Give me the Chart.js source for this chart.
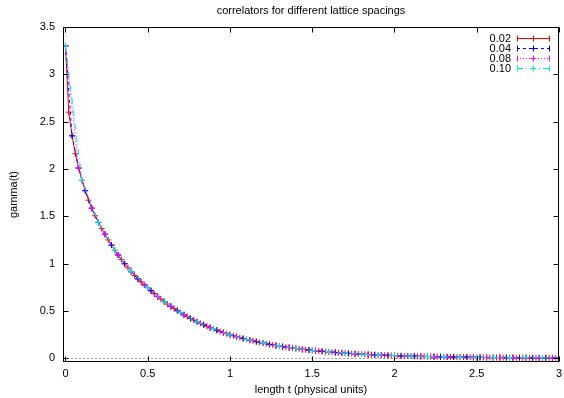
<!DOCTYPE html>
<html>
<head>
<meta charset="utf-8">
<title>correlators for different lattice spacings</title>
<script src="https://cdn.jsdelivr.net/npm/chart.js@4.4.1/dist/chart.umd.min.js"></script>
<style>
  html, body { margin: 0; padding: 0; background: #fff; }
  canvas { display: block; }
</style>
</head>
<body>
<canvas id="corr" width="564" height="398"></canvas>
<script>
// ---------------------------------------------------- data ----------------------------------------------------
const seriesNames = ['0.02', '0.04', '0.08', '0.10'];
const spacings = [0.02, 0.04, 0.08, 0.10];

const gamma002 = [
    3.30, 2.60, 2.35, 2.16, 2.01, 1.88, 1.77, 1.67, 1.585, 1.505,
    1.435, 1.37, 1.31, 1.25, 1.195, 1.14, 1.09, 1.043, 0.998, 0.955,
    0.914, 0.875, 0.838, 0.806, 0.775, 0.745, 0.713, 0.682, 0.653, 0.625,
    0.598, 0.572, 0.548, 0.524, 0.502, 0.480, 0.459, 0.440, 0.421, 0.403,
    0.385, 0.369, 0.353, 0.338, 0.323, 0.309, 0.296, 0.283, 0.271, 0.259,
    0.248, 0.238, 0.227, 0.218, 0.208, 0.199, 0.191, 0.183, 0.175, 0.167,
    0.160, 0.153, 0.147, 0.140, 0.134, 0.128, 0.123, 0.118, 0.113, 0.108,
    0.103, 0.099, 0.094, 0.090, 0.086, 0.083, 0.079, 0.076, 0.073, 0.069,
    0.066, 0.064, 0.061, 0.058, 0.056, 0.053, 0.051, 0.049, 0.047, 0.045,
    0.043, 0.041, 0.039, 0.038, 0.036, 0.034, 0.033, 0.031, 0.030, 0.029,
    0.028, 0.026, 0.025, 0.024, 0.023, 0.022, 0.021, 0.020, 0.019, 0.019,
    0.018, 0.017, 0.016, 0.016, 0.015, 0.014, 0.014, 0.013, 0.013, 0.012,
    0.012, 0.011, 0.011, 0.010, 0.010, 0.009, 0.009, 0.008, 0.008, 0.008,
    0.007, 0.007, 0.007, 0.007, 0.006, 0.006, 0.006, 0.005, 0.005, 0.005,
    0.005, 0.005, 0.004, 0.004, 0.004, 0.004, 0.004, 0.004, 0.003, 0.003,
    0.003
];
const gamma004 = [
    3.30, 2.35, 2.01, 1.77, 1.585, 1.435, 1.31, 1.195, 1.09, 0.998,
    0.914, 0.838, 0.775, 0.713, 0.653, 0.598, 0.548, 0.502, 0.459, 0.421,
    0.385, 0.353, 0.323, 0.296, 0.271, 0.248, 0.227, 0.208, 0.191, 0.175,
    0.160, 0.147, 0.134, 0.123, 0.113, 0.103, 0.094, 0.086, 0.079, 0.073,
    0.066, 0.061, 0.056, 0.051, 0.047, 0.043, 0.039, 0.036, 0.033, 0.030,
    0.028, 0.025, 0.023, 0.021, 0.019, 0.018, 0.016, 0.015, 0.014, 0.013,
    0.012, 0.011, 0.010, 0.009, 0.008, 0.007, 0.007, 0.006, 0.006, 0.005,
    0.005, 0.004, 0.004, 0.004, 0.003, 0.003
];
const gamma008 = [
    3.30, 2.01, 1.585, 1.31, 1.09, 0.914, 0.775, 0.653, 0.548, 0.459,
    0.385, 0.323, 0.271, 0.227, 0.191, 0.160, 0.134, 0.113, 0.094, 0.079,
    0.066, 0.056, 0.047, 0.039, 0.033, 0.028, 0.023, 0.019, 0.016, 0.014,
    0.012, 0.010, 0.008, 0.007, 0.006, 0.005, 0.004, 0.003
];
const gamma010 = [
    3.30, 1.88, 1.435, 1.14, 0.914, 0.745, 0.598, 0.480, 0.385, 0.309,
    0.248, 0.199, 0.160, 0.128, 0.103, 0.083, 0.066, 0.053, 0.043, 0.034,
    0.028, 0.022, 0.018, 0.014, 0.012, 0.009, 0.007, 0.006, 0.005, 0.004,
    0.003
];

const xTicks = [0, 0.5, 1, 1.5, 2, 2.5, 3];
const xTickLabels = ['0', '0.5', '1', '1.5', '2', '2.5', '3'];
const yTicks = [0, 0.5, 1, 1.5, 2, 2.5, 3, 3.5];
const yTickLabels = ['0', '0.5', '1', '1.5', '2', '2.5', '3', '3.5'];

const titleText = 'correlators for different lattice spacings';
const xTitle = 'length t (physical units)';
const yTitle = 'gamma(t)';

// ---------------------------------------------------- styles ----------------------------------------------------
const FONT = '"Liberation Sans", Arial, sans-serif';
const colors = ['#ff0000', '#0000ff', '#ff00ff', '#00e8e8'];
const dashes = [[], [3, 3], [1, 2], [6, 3, 1, 3]];

function toPoints(values, h) {
    return values.map((y, i) => ({ x: i * h, y: y }));
}

const allValues = [gamma002, gamma004, gamma008, gamma010];

const datasets = allValues.map((vals, k) => ({
    label: seriesNames[k],
    data: toPoints(vals, spacings[k]),
    borderColor: colors[k],
    backgroundColor: colors[k],
    borderWidth: 1,
    borderDash: dashes[k],
    pointStyle: 'cross',
    pointRadius: 3,
    pointBorderWidth: 1,
    pointBorderColor: colors[k],
    tension: 0,
    fill: false,
    order: 3 - k   // later series drawn on top, like gnuplot
}));

// gnuplot look: frame, inward mirrored ticks, dotted zero axis, key and titles
const gnuplotDecor = {
    id: 'gnuplotDecor',
    beforeDatasetsDraw(chart) {
        const { ctx, chartArea: a, scales } = chart;
        const y0 = Math.round(scales.y.getPixelForValue(0)) + 0.5;
        ctx.save();
        ctx.strokeStyle = '#a0a0a0';
        ctx.lineWidth = 1;
        ctx.setLineDash([2, 2]);
        ctx.beginPath();
        ctx.moveTo(a.left, y0);
        ctx.lineTo(a.right, y0);
        ctx.stroke();
        ctx.restore();
    },
    afterDatasetsDraw(chart) {
        const { ctx, chartArea: a, scales } = chart;
        const L = Math.round(a.left) + 0.5, R = Math.round(a.right) - 0.5;
        const T = Math.round(a.top) + 0.5, B = Math.round(a.bottom) - 0.5;
        const tl = 5;
        ctx.save();
        ctx.strokeStyle = '#000';
        ctx.lineWidth = 1;
        ctx.setLineDash([]);
        ctx.beginPath();
        xTicks.forEach(v => {
            const px = Math.round(scales.x.getPixelForValue(v)) + 0.5;
            ctx.moveTo(px, B); ctx.lineTo(px, B - tl);
            ctx.moveTo(px, T); ctx.lineTo(px, T + tl);
        });
        yTicks.forEach(v => {
            const py = Math.round(scales.y.getPixelForValue(v)) + 0.5;
            ctx.moveTo(L, py); ctx.lineTo(L + tl, py);
            ctx.moveTo(R, py); ctx.lineTo(R - tl, py);
        });
        ctx.stroke();
        ctx.strokeRect(L, T, R - L, B - T);

        // key
        ctx.font = '11px ' + FONT;
        ctx.textBaseline = 'middle';
        ctx.textAlign = 'right';
        chart.data.datasets.forEach((ds, k) => {
            const yy = 38.5 + k * 10;
            ctx.fillStyle = '#000';
            ctx.fillText(ds.label, 511, yy);
            ctx.strokeStyle = ds.borderColor;
            ctx.setLineDash(ds.borderDash);
            ctx.beginPath();
            ctx.moveTo(517, yy); ctx.lineTo(549, yy);
            ctx.stroke();
            ctx.setLineDash([]);
            ctx.beginPath();
            ctx.moveTo(517.5, yy - 3); ctx.lineTo(517.5, yy + 3);
            ctx.moveTo(549.5, yy - 3); ctx.lineTo(549.5, yy + 3);
            ctx.moveTo(533.5, yy - 3); ctx.lineTo(533.5, yy + 3);
            ctx.moveTo(530.5, yy); ctx.lineTo(536.5, yy);
            ctx.stroke();
        });

        // titles
        ctx.fillStyle = '#000';
        ctx.textAlign = 'center';
        const cx = (a.left + a.right) / 2;
        ctx.fillText(titleText, cx, 11);
        ctx.fillText(xTitle, cx, 390);
        ctx.translate(14, (a.top + a.bottom) / 2);
        ctx.rotate(-Math.PI / 2);
        ctx.fillText(yTitle, 0, 0);
        ctx.restore();
    }
};

const tickFont = { family: FONT, size: 11 };

new Chart(document.getElementById('corr'), {
    type: 'line',
    data: { datasets: datasets },
    options: {
        responsive: false,
        animation: false,
        layout: { padding: { top: 27, right: 2, bottom: 0, left: 0 } },
        plugins: {
            legend: { display: false },
            title: { display: false },
            tooltip: { enabled: false }
        },
        scales: {
            x: {
                type: 'linear',
                min: -0.015,
                max: 3,
                afterBuildTicks: s => { s.ticks = xTicks.map(v => ({ value: v })); },
                afterFit: s => { s.height = 36; s.paddingLeft = 0; s.paddingRight = 0; },
                grid: { display: false, drawTicks: false },
                border: { display: false },
                ticks: {
                    callback: (v, i) => xTickLabels[i],
                    font: tickFont,
                    color: '#000',
                    padding: 5,
                    maxRotation: 0,
                    autoSkip: false
                }
            },
            y: {
                type: 'linear',
                min: -0.04,
                max: 3.5,
                afterBuildTicks: s => { s.ticks = yTicks.map(v => ({ value: v })); },
                afterFit: s => { s.width = 63; s.paddingTop = 0; s.paddingBottom = 0; },
                grid: { display: false, drawTicks: false },
                border: { display: false },
                ticks: {
                    callback: (v, i) => yTickLabels[i],
                    font: tickFont,
                    color: '#000',
                    padding: 8,
                    autoSkip: false
                }
            }
        }
    },
    plugins: [gnuplotDecor]
});
</script>
</body>
</html>
